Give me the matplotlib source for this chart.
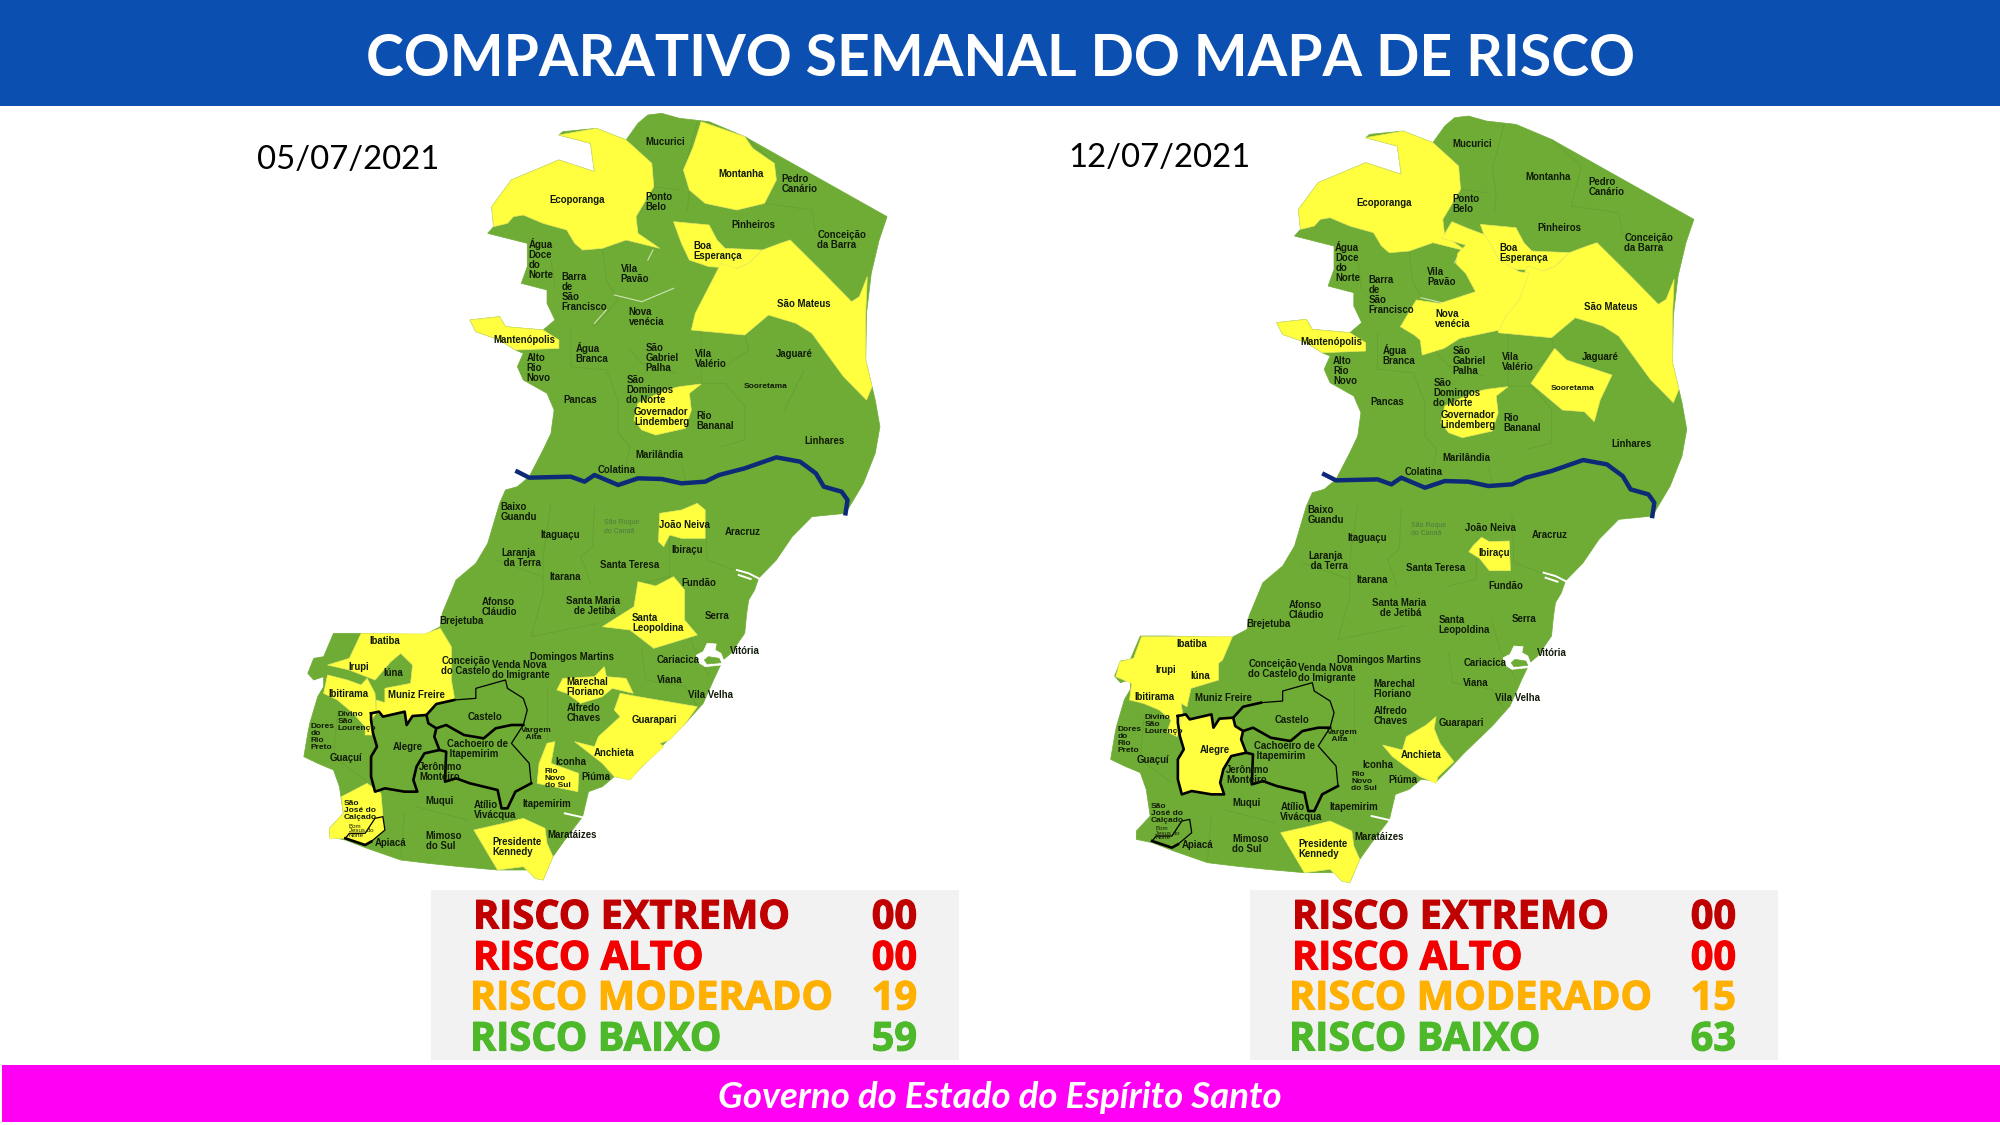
import matplotlib
matplotlib.use('Agg')
from matplotlib import pyplot as plt
from matplotlib import patheffects
from matplotlib.patches import Rectangle, Polygon

# Textos do cabecalho e rodape
titulo = 'COMPARATIVO SEMANAL DO MAPA DE RISCO'
rodape = 'Governo do Estado do Espírito Santo'
datas = ['05/07/2021', '12/07/2021']

# Legenda
riscos = ['RISCO EXTREMO', 'RISCO ALTO', 'RISCO MODERADO', 'RISCO BAIXO']
cores_risco = ['#C00000', '#F20000', '#FFB000', '#4DB82A']
contagem_semana1 = ['00', '00', '19', '59']
contagem_semana2 = ['00', '00', '15', '63']

VERDE = '#6FAC35'
AMARELO = '#FFFF40'
DESLOC = 1140  # parte de baixo do mapa


def baixo(pts):
    return [(x, y + DESLOC) for x, y in pts]


# Contorno do estado (unidades do mapa)
contorno = [(880, 70), (905, 45), (940, 40), (985, 55), (1060, 65), (1150, 110), (1510, 350), (1490, 420),
            (1470, 520), (1458, 640), (1456, 780), (1472, 860), (1480, 900), (1492, 980), (1480, 1060),
            (1450, 1150), (1420, 1210), (1405, 1240), (1320, 1250), (1270, 1310), (1230, 1380), (1185, 1435),
            (1175, 1470), (1160, 1500), (1155, 1540), (1150, 1600), (1115, 1660), (1095, 1680), (1075, 1730),
            (1045, 1810), (1030, 1830), (1000, 1870), (965, 1910), (930, 1950), (890, 2000), (860, 2035),
            (820, 2030), (790, 2060), (755, 2075), (740, 2150), (695, 2220), (665, 2270), (640, 2340),
            (620, 2335), (600, 2310), (525, 2310), (430, 2300), (350, 2290), (280, 2280), (195, 2245),
            (140, 2220), (100, 2210), (100, 2185), (135, 2140), (130, 2100), (125, 2060), (110, 2010),
            (70, 1990), (35, 1970), (45, 1900), (50, 1870), (70, 1790), (85, 1760), (85, 1730), (60, 1740),
            (45, 1720), (60, 1675), (85, 1670), (110, 1600), (180, 1600), (340, 1605), (380, 1580),
            (385, 1540), (420, 1440), (470, 1390), (500, 1330), (530, 1210), (545, 1170), (575, 1160),
            (605, 1130), (640, 1050), (660, 1000), (668, 930), (650, 880), (590, 840), (575, 800), (590, 760),
            (570, 750), (530, 720), (470, 695), (455, 660), (530, 650), (545, 680), (640, 690), (670, 660),
            (650, 610), (650, 570), (585, 550), (600, 500), (600, 430), (500, 400), (515, 380), (510, 320),
            (560, 240), (680, 180), (770, 215), (760, 130), (680, 105), (690, 95), (775, 85), (850, 120)]

# Municipios em amarelo
ecoporanga = [(680, 105), (775, 85), (850, 120), (915, 190), (920, 260), (875, 350), (880, 400), (935, 445),
              (850, 420), (790, 445), (740, 450), (720, 430), (700, 390), (640, 370), (590, 345), (565, 350),
              (550, 370), (515, 380), (510, 320), (560, 240), (680, 180), (770, 215), (760, 130)]
montanha = [(1040, 65), (1150, 110), (1170, 145), (1225, 190), (1230, 240), (1200, 310), (1130, 330),
            (1050, 310), (1010, 270), (995, 210), (1020, 140)]
boa_esperanca = [(970, 365), (1060, 375), (1080, 420), (1100, 445), (1195, 450), (1160, 490), (1130, 505),
                 (1060, 500), (1010, 480), (990, 430)]
sao_mateus = [(1265, 420), (1350, 520), (1420, 605), (1440, 590), (1460, 530), (1456, 640), (1456, 780),
              (1472, 860), (1458, 900), (1400, 830), (1320, 700), (1280, 670), (1210, 645), (1150, 705),
              (1015, 690), (1025, 640), (1090, 490), (1130, 505), (1160, 490), (1195, 450), (1240, 430)]
mantenopolis = [(455, 660), (530, 650), (545, 680), (640, 690), (680, 720), (680, 745), (570, 750), (530, 720),
                (470, 695)]
gov_lindemberg = [(1040, 852), (1010, 880), (1015, 930), (1000, 985), (925, 1005), (890, 990), (870, 960),
                  (880, 910), (950, 870), (985, 860)]
joao_neiva = baixo([(1030, 70), (1050, 90), (1050, 175), (990, 175), (960, 165), (945, 200), (932, 185),
                    (935, 100), (990, 90)])
santa_leopoldina = baixo([(880, 305), (925, 318), (970, 290), (998, 330), (998, 420), (1030, 465), (920, 505),
                          (860, 450), (790, 440), (830, 410), (870, 380)])
marechal = baixo([(770, 590), (795, 560), (800, 590), (850, 595), (868, 640), (815, 625), (790, 650),
                  (735, 670), (700, 640), (675, 630), (690, 595)])
guarapari_anchieta = baixo([(835, 640), (880, 650), (1030, 680), (1000, 730), (960, 780), (935, 790),
                            (945, 800), (890, 860), (860, 900), (820, 890), (790, 850), (720, 785), (770, 800),
                            (780, 770), (835, 710), (820, 690)])
rio_novo = baixo([(650, 790), (670, 785), (660, 850), (730, 880), (728, 935), (625, 910), (630, 850)])
kennedy = baixo([(590, 1015), (645, 1045), (650, 1090), (665, 1130), (640, 1200), (620, 1195), (590, 1160),
                 (525, 1170), (490, 1100), (465, 1050), (540, 1030)])
ibatiba_muniz = baixo([(180, 460), (340, 462), (380, 445), (408, 500), (408, 600), (417, 660), (370, 672),
                       (345, 705), (310, 708), (295, 735), (290, 695), (235, 708), (218, 695), (218, 660),
                       (240, 668), (240, 625), (305, 610), (310, 555), (280, 520), (255, 545), (215, 600),
                       (150, 570), (95, 555), (150, 535)])
ibitirama = baixo([(95, 585), (145, 600), (180, 615), (195, 595), (215, 640), (218, 700), (205, 720),
                   (212, 765), (190, 765), (190, 740), (160, 700), (120, 660), (85, 640)])
sao_jose = baixo([(195, 910), (230, 940), (235, 1010), (240, 1050), (205, 1085), (190, 1095), (140, 1075),
                  (100, 1075), (100, 1045), (135, 1000), (130, 950)])
nova_venecia = [(898, 357), (938, 377), (983, 397), (1018, 472), (1068, 507), (1093, 512), (1068, 592),
                (1033, 642), (1018, 682), (918, 707), (878, 737), (823, 757), (818, 712), (803, 697),
                (768, 672), (808, 592), (868, 602), (958, 567), (933, 512), (908, 482), (913, 452), (933, 427),
                (873, 407)]
sooretama = [(1158, 737), (1188, 772), (1303, 817), (1273, 892), (1258, 957), (1233, 927), (1178, 922),
             (1098, 842)]
ibiracu = baixo([(973, 164), (993, 177), (1043, 175), (1046, 264), (993, 264), (968, 227), (941, 207),
                 (953, 187)])
anchieta = baixo([(858, 702), (853, 737), (868, 782), (903, 837), (863, 882), (858, 902), (818, 882),
                  (788, 857), (748, 822), (723, 787), (773, 802), (783, 762), (833, 727)])
alegre = baixo([(205, 700), (225, 695), (235, 710), (290, 695), (295, 735), (310, 708), (345, 705), (350, 730),
                (370, 745), (365, 770), (378, 810), (340, 820), (320, 860), (312, 900), (322, 935), (290, 935),
                (240, 925), (215, 935), (205, 890), (205, 830), (220, 800), (210, 760), (205, 720)])
ibatiba_iuna = baixo([(113, 462), (343, 462), (318, 532), (308, 542), (308, 592), (238, 617), (228, 672),
                      (213, 662), (218, 697), (203, 762), (178, 747), (188, 712), (158, 682), (118, 662),
                      (83, 652), (88, 602), (48, 582), (58, 537), (93, 527)])

amarelos_semana1 = [ecoporanga, montanha, boa_esperanca, sao_mateus, mantenopolis, gov_lindemberg, joao_neiva,
                    santa_leopoldina, marechal, guarapari_anchieta, rio_novo, kennedy, ibatiba_muniz, ibitirama,
                    sao_jose]
amarelos_semana2 = [ecoporanga, boa_esperanca, sao_mateus, mantenopolis, gov_lindemberg, nova_venecia,
                    sooretama, ibiracu, anchieta, alegre, kennedy, ibatiba_iuna]

# Rio Doce e limites pretos
rio = [(575, 1115), (605, 1133), (710, 1130), (745, 1145), (770, 1125), (830, 1155), (880, 1135), (940, 1137),
       (990, 1150), (1050, 1145), (1085, 1125), (1150, 1105), (1230, 1072), (1290, 1085), (1330, 1120),
       (1350, 1160), (1395, 1175), (1410, 1200), (1405, 1240)]
linhas_grossas = [
    alegre + [alegre[0]],
    baixo([(345, 705), (370, 672), (415, 660)]),
    baixo([(590, 735), (560, 735), (520, 745), (490, 775), (440, 765), (395, 735), (370, 745)]),
    baixo([(378, 810), (395, 815), (392, 905), (420, 895), (455, 910), (525, 930), (535, 985), (550, 985),
           (570, 935), (610, 910)]),
    baixo([(140, 1075), (190, 1095), (205, 1085)]),
]
linhas_finas = [
    baixo([(415, 660), (470, 655), (470, 625), (545, 600), (550, 625), (590, 655), (600, 690), (590, 735)]),
    baixo([(610, 910), (605, 850), (560, 790), (590, 735)]),
    baixo([(205, 1085), (240, 1050), (235, 1010), (215, 1015), (190, 1060), (150, 1060), (140, 1075)]),
]
# Limites suaves entre municipios
limites = [
    [(1030, 65), (1000, 200), (1010, 270), (1005, 330)], [(1150, 110), (1225, 190), (1200, 310), (1320, 330), (1330, 400)],
    [(920, 260), (985, 270)], [(1085, 500), (1015, 690)], [(790, 450), (800, 540), (830, 600), (770, 680)],
    [(660, 480), (670, 560)], [(710, 690), (710, 800), (800, 810), (830, 900), (830, 1000), (860, 1040), (850, 1100)],
    [(1040, 690), (1040, 850), (1100, 850), (1150, 920), (1150, 1020), (1090, 1040)], [(1150, 705), (1160, 750), (1100, 800)],
    [(1300, 810), (1250, 930)], [(860, 750), (890, 790), (980, 820)], [(990, 1090), (1000, 1140)],
    baixo([(660, 70), (640, 230), (640, 340), (610, 470)]), baixo([(770, 80), (765, 200), (735, 230), (760, 310)]),
    baixo([(1050, 100), (1055, 240), (1170, 290)]), baixo([(960, 170), (960, 290), (890, 310)]),
    baixo([(520, 240), (640, 290)]), baixo([(610, 470), (780, 430)]), baixo([(1000, 420), (1020, 500), (1060, 590)]),
    baixo([(890, 510), (900, 600), (1000, 620), (1030, 680)]), baixo([(650, 620), (650, 780)]),
    baixo([(290, 1000), (280, 1130)]), baixo([(320, 980), (450, 1020)]), baixo([(120, 700), (110, 830), (190, 900)]),
]
estuarios = [baixo([(1130, 270), (1160, 280), (1185, 295)]), baixo([(1135, 285), (1165, 297)]),
             baixo([(695, 1000), (740, 1012)])]
baia_vitoria = baixo([(1055, 490), (1078, 492), (1075, 510), (1090, 520), (1098, 545), (1090, 555), (1050, 560),
                      (1030, 545), (1028, 525), (1045, 515)])
ilha_vitoria = baixo([(1058, 530), (1085, 535), (1090, 548), (1055, 552), (1048, 540)])
riscos_brancos = [[(820, 585), (890, 605), (970, 565)], [(770, 670), (800, 630)], [(905, 480), (918, 450)]]

# Nomes dos municipios
nomes = [('Mucurici', 900, 125), ('Montanha', 1083, 222), ('Pedro\nCanário', 1243, 253), ('Ecoporanga', 657, 300),
         ('Ponto\nBelo', 900, 305), ('Pinheiros', 1115, 375), ('Conceição\nda Barra', 1334, 420),
         ('Boa\nEsperança', 1019, 452), ('Água\nDoce\ndo\nNorte', 603, 478), ('Vila\nPavão', 836, 523),
         ('Barra\nde\nSão\nFrancisco', 687, 576), ('São Mateus', 1232, 612), ('Nova\nvenécia', 856, 650),
         ('Mantenópolis', 515, 719), ('Água\nBranca', 722, 758), ('São\nGabriel\nPalha', 899, 775),
         ('Vila\nValério', 1025, 778), ('Jaguaré', 1228, 763), ('Alto\nRio\nNovo', 598, 805),
         ('São\nDomingos\ndo Norte', 851, 870), ('Pancas', 691, 899), ('Governador\nLindemberg', 870, 952),
         ('Rio\nBananal', 1028, 962), ('Linhares', 1302, 1024), ('Marilândia', 873, 1066), ('Colatina', 778, 1109),
         ('Baixo\nGuandu', 532, 1237), ('João Neiva', 932, 1276), ('Aracruz', 1100, 1296), ('Itaguaçu', 634, 1305),
         ('Ibiraçu', 965, 1350), ('Laranja\n da Terra', 534, 1374), ('Santa Teresa', 783, 1396), ('Itarana', 657, 1432),
         ('Fundão', 990, 1450), ('Afonso\nCláudio', 485, 1522), ('Santa Maria\n   de Jetibá', 697, 1517),
         ('Serra', 1050, 1549), ('Santa\nLeopoldina', 865, 1568), ('Brejetuba', 378, 1564), ('Ibatiba', 200, 1623),
         ('Vitória', 1112, 1652), ('Domingos Martins', 608, 1672), ('Cariacica', 928, 1680),
         ('Conceição\ndo Castelo', 383, 1698), ('Venda Nova\ndo Imigrante', 510, 1711), ('Irupi', 148, 1702),
         ('Iúna', 237, 1720), ('Viana', 927, 1741), ('Marechal\nFloriano', 700, 1760), ('Ibitirama', 96, 1783),
         ('Muniz Freire', 248, 1785), ('Vila Velha', 1007, 1786), ('Alfredo\nChaves', 700, 1840), ('Castelo', 450, 1852),
         ('Guarapari', 865, 1861), ('Alegre', 260, 1942), ('Cachoeiro de\n Itapemirim', 398, 1946), ('Anchieta', 768, 1958),
         ('Guaçuí', 101, 1973), ('Iconha', 672, 1987), ('Jerônimo\nMonteiro', 327, 2017), ('Piúma', 738, 2032),
         ('Muqui', 342, 2102), ('Itapemirim', 588, 2113), ('Atílio\nVivácqua', 464, 2129), ('Mimoso\ndo Sul', 343, 2224),
         ('Maratáizes', 651, 2204), ('Apiacá', 214, 2228), ('Presidente\nKennedy', 511, 2240)]
nomes_pequenos = [('Divino\nSão\nLourenço', 120, 1865), ('Vargem\n  Alta', 583, 1901), ('Dores\ndo\nRio\nPreto', 52, 1911),
                  ('Rio\nNovo\ndo Sul', 644, 2036), ('São\nJosé do\nCalçado', 136, 2132), ('Sooretama', 1148, 858)]
nome_minimo = ('Bom\nJesus do\nNorte', 148, 2192)
nome_cinza = ('São Roque\ndo Canaã', 795, 1281)


def desenha_mapa(fig, x0, y0, amarelos):
    # 620 px de largura = 1568 unidades, 820 px de altura = 2460 unidades
    ax = fig.add_axes([x0 / 2000, 1 - (y0 + 820) / 1125, 620 / 2000, 820 / 1125])
    ax.set_xlim(0, 1568)
    ax.set_ylim(2460, 0)
    ax.axis('off')
    ax.add_patch(Polygon(contorno, closed=True, fc=VERDE, ec=VERDE, lw=0.5, zorder=1))
    for lim in limites:
        ax.plot(*zip(*lim), color='#66A030', lw=0.6, zorder=2)
    for pts in riscos_brancos:
        ax.plot(*zip(*pts), color='#CFE3B8', lw=0.8, zorder=2)
    for reg in amarelos:
        ax.add_patch(Polygon(reg, closed=True, fc=AMARELO, ec='#E8E860', lw=0.5, zorder=3))
    ax.plot(*zip(*rio), color='#0D2A78', lw=3.2, zorder=4)
    ax.add_patch(Polygon(baia_vitoria, closed=True, fc='white', ec='white', lw=0.5, zorder=4))
    ax.add_patch(Polygon(ilha_vitoria, closed=True, fc=VERDE, ec=VERDE, lw=0.5, zorder=4))
    for e in estuarios:
        ax.plot(*zip(*e), color='white', lw=1.4, zorder=4)
    for lin in linhas_grossas:
        ax.plot(*zip(*lin), color='black', lw=1.9, zorder=5)
    for lin in linhas_finas:
        ax.plot(*zip(*lin), color='black', lw=0.9, zorder=5)
    for nome, x, y in nomes:
        ax.text(x, y, nome, fontsize=6.9, fontweight='bold', family='Liberation Sans', color='#101A08',
                va='center', ha='left', linespacing=1.0, zorder=6)
    for nome, x, y in nomes_pequenos:
        ax.text(x, y, nome, fontsize=6, fontweight='bold', family='Liberation Sans', color='#101A08',
                va='center', ha='left', linespacing=1.0, zorder=6)
    ax.text(nome_minimo[1], nome_minimo[2], nome_minimo[0], fontsize=4.4, family='Liberation Sans',
            color='#101A08', va='center', ha='left', linespacing=0.9, zorder=6)
    ax.text(nome_cinza[1], nome_cinza[2], nome_cinza[0], fontsize=5, family='Liberation Sans',
            color='#4F7A40', va='center', ha='left', linespacing=1.3, zorder=6)


def desenha_legenda(ax, x0, x1, desloc, contagem):
    ax.add_patch(Rectangle((x0, 890), x1 - x0, 170, fc='#F2F2F2', ec='none'))
    ys = [918, 959, 999, 1040]
    xs = [473, 473, 470, 470]
    for i in range(4):
        for txt, x, ha in [(riscos[i], xs[i] + desloc, 'left'), (contagem[i], 917 + desloc, 'right')]:
            t = ax.text(x, ys[i], txt, color=cores_risco[i], fontsize=28.6, fontweight='bold',
                        family='Open Sans', va='center', ha=ha)
            t.set_path_effects([patheffects.withStroke(linewidth=0.8, foreground=cores_risco[i])])


fig = plt.figure(figsize=(20, 11.25), dpi=100, facecolor='white')
pagina = fig.add_axes([0, 0, 1, 1])
pagina.set_xlim(0, 2000)
pagina.set_ylim(1125, 0)
pagina.axis('off')

pagina.add_patch(Rectangle((0, 0), 2000, 106, fc='#0B4FB0', ec='none'))
pagina.text(1000, 59, titulo, color='white', fontsize=41, fontweight='bold', family='Lato', ha='center', va='center')
pagina.add_patch(Rectangle((2, 1065), 1998, 57, fc='#FF00F5', ec='none'))
pagina.text(1000, 1098, rodape, color='white', fontsize=26.4, fontweight='bold', style='italic', family='Lato',
            ha='center', va='center')

pagina.text(257, 160, datas[0], color='black', fontsize=23.7, family='Lato', ha='left', va='center')
pagina.text(1068, 158, datas[1], color='black', fontsize=23.7, family='Lato', ha='left', va='center')

desenha_legenda(pagina, 431, 959, 0, contagem_semana1)
desenha_legenda(pagina, 1250, 1778, 819, contagem_semana2)

desenha_mapa(fig, 290, 100, amarelos_semana1)
desenha_mapa(fig, 1096.8, 102.7, amarelos_semana2)

fig.savefig('out.png', dpi=100)
